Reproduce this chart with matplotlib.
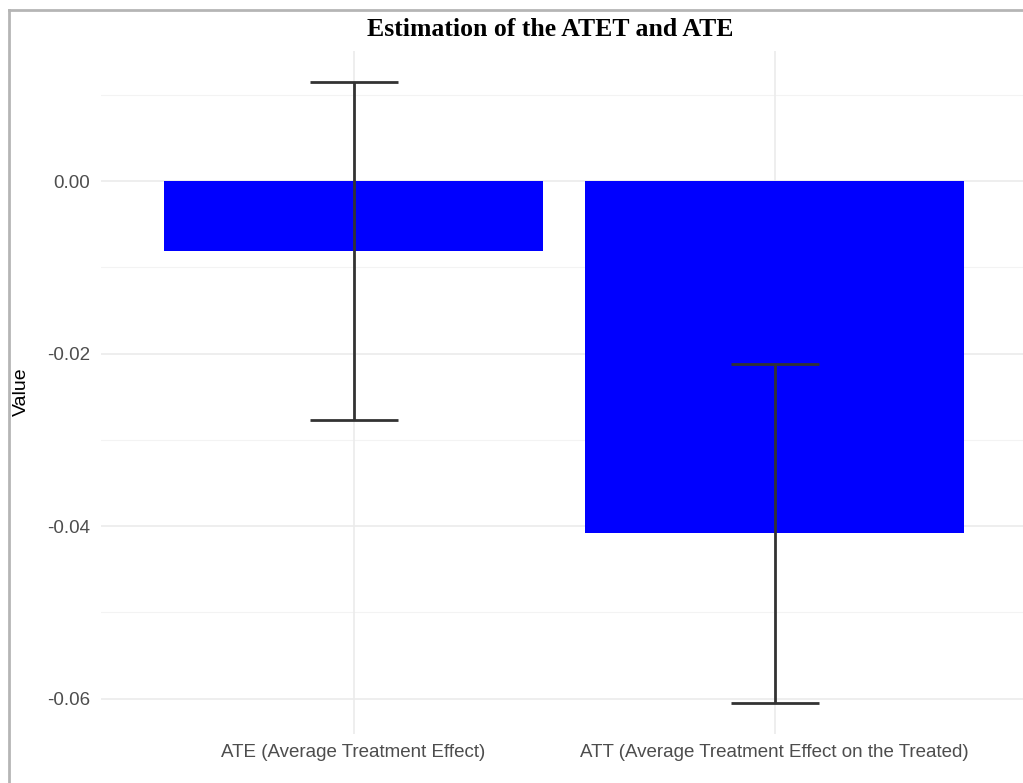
import matplotlib
matplotlib.use("Agg")
import matplotlib.pyplot as plt
from matplotlib.lines import Line2D

categories = ["ATE (Average Treatment Effect)", "ATT (Average Treatment Effect on the Treated)"]
estimates = [-0.0081, -0.0408]
lower = [-0.0277, -0.0605]
upper = [0.0115, -0.0212]
yticks = [0.00, -0.02, -0.04, -0.06]
yminor = [0.01, -0.01, -0.03, -0.05]

W, H = 1023, 783
fig = plt.figure(figsize=(W / 100, H / 100), dpi=100)
ax = fig.add_axes([101 / W, 1 - 734 / H, (1023 - 101) / W, (734 - 51) / H])

x = list(range(len(categories)))
for y in yminor:
    ax.axhline(y, color="#f3f3f3", lw=0.8, zorder=0)
for y in yticks:
    ax.axhline(y, color="#ebebeb", lw=1.2, zorder=0)
for xi in x:
    ax.axvline(xi, color="#ebebeb", lw=1.2, zorder=0)

ax.bar(x, estimates, width=0.9, color="#0000ff", zorder=2)
ax.errorbar(x, estimates,
            yerr=[[e - l for e, l in zip(estimates, lower)], [u - e for e, u in zip(estimates, upper)]],
            fmt="none", ecolor="#333333", elinewidth=2, capsize=31.5, capthick=2, zorder=3)

ax.set_xlim(-0.6, -0.6 + (1023 - 101) / 421)
ax.set_ylim(-0.0641, 0.0151)
ax.set_yticks(yticks)
ax.set_yticklabels([f"{v:.2f}" for v in yticks])
ax.set_xticks(x)
ax.set_xticklabels(categories)
for s in ax.spines.values():
    s.set_visible(False)
ax.tick_params(length=0, colors="#4d4d4d", labelsize=13.5)
ax.tick_params(axis="x", pad=7)
ax.tick_params(axis="y", pad=8)
for lab in ax.get_xticklabels() + ax.get_yticklabels():
    lab.set_family("Liberation Sans")

fig.text(21 / W, 1 - 392 / H, "Value", rotation=90, ha="center", va="center",
         fontsize=14, family="Liberation Sans", color="black")

fig.text(550 / W, 1 - 29 / H, "Estimation of the ATET and ATE", ha="center", va="center",
         fontsize=18.5, fontweight="bold", family="Liberation Serif")

# outer frame lines (top and left)
fig.add_artist(Line2D([9 / W, 1], [1 - 10 / H, 1 - 10 / H], color="#b5b5b5", lw=2, transform=fig.transFigure))
fig.add_artist(Line2D([9 / W, 9 / W], [0, 1 - 10 / H], color="#b5b5b5", lw=2, transform=fig.transFigure))

fig.savefig("out.png", dpi=100)
